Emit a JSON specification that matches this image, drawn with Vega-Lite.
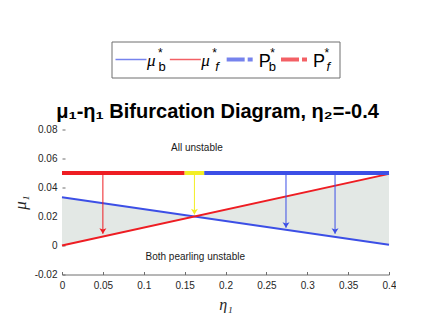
{
  "$schema": "https://vega.github.io/schema/vega-lite/v6.json",
  "background": "white",
  "padding": {"left": 11, "top": 40.5, "right": 0, "bottom": 0},
  "spacing": 52,
  "center": true,
  "bounds": "flush",
  "resolve": {"scale": {"color": "independent"}},
  "config": {"font": "Liberation Sans", "view": {"stroke": null}},
  "vconcat": [
    {
      "width": 228,
      "height": 36,
      "view": {"stroke": "#6e6e6e", "strokeWidth": 1},
      "data": {"values": [
        {"item": "mb", "main": "μ", "sub": "b", "kind": "mu"},
        {"item": "mf", "main": "μ", "sub": "f", "kind": "mu"},
        {"item": "pb", "main": "P", "sub": "b", "kind": "P"},
        {"item": "pf", "main": "P", "sub": "f", "kind": "P"}
      ]},
      "encoding": {
        "x": {"field": "item", "type": "nominal", "scale": {"type": "point", "domain": ["mb", "mf", "pb", "pf"], "range": [19.5, 182.5], "padding": 0}, "axis": null},
        "color": {"field": "item", "type": "nominal", "scale": {"domain": ["mb", "mf", "pb", "pf"], "range": ["#3c4fe6", "#ee1d23", "#3c4fe6", "#ee1d23"]}, "legend": null}
      },
      "layer": [
        {"transform": [{"filter": "datum.kind == 'mu'"}], "mark": {"type": "tick", "orient": "horizontal", "thickness": 1.5, "size": 31}},
        {"transform": [{"filter": "datum.kind == 'P'"}], "mark": {"type": "tick", "orient": "horizontal", "thickness": 4, "size": 18, "xOffset": -4}},
        {"transform": [{"filter": "datum.kind == 'P'"}], "mark": {"type": "tick", "orient": "horizontal", "thickness": 4, "size": 5, "xOffset": 10.5}},
        {"transform": [{"filter": "datum.kind == 'mu'"}], "mark": {"type": "text", "font": "Liberation Serif", "fontStyle": "italic", "fontSize": 17, "align": "left", "baseline": "alphabetic", "dx": 16, "dy": 6}, "encoding": {"text": {"field": "main"}, "color": {"value": "#000000"}}},
        {"transform": [{"filter": "datum.kind == 'P'"}], "mark": {"type": "text", "fontSize": 18, "align": "left", "baseline": "alphabetic", "dx": 19, "dy": 7}, "encoding": {"text": {"field": "main"}, "color": {"value": "#000000"}}},
        {"transform": [{"filter": "datum.kind == 'mu'"}], "mark": {"type": "text", "fontSize": 12, "align": "left", "baseline": "alphabetic", "dx": 27, "dy": -3}, "encoding": {"text": {"value": "*"}, "color": {"value": "#000000"}}},
        {"transform": [{"filter": "datum.kind == 'P'"}], "mark": {"type": "text", "fontSize": 12, "align": "left", "baseline": "alphabetic", "dx": 30.5, "dy": -3}, "encoding": {"text": {"value": "*"}, "color": {"value": "#000000"}}},
        {"transform": [{"filter": "datum.item == 'mb'"}], "mark": {"type": "text", "fontSize": 13, "align": "left", "baseline": "alphabetic", "dx": 27.5, "dy": 11}, "encoding": {"text": {"field": "sub"}, "color": {"value": "#000000"}}},
        {"transform": [{"filter": "datum.item == 'mf'"}], "mark": {"type": "text", "fontSize": 13, "fontStyle": "italic", "align": "left", "baseline": "alphabetic", "dx": 30, "dy": 11}, "encoding": {"text": {"field": "sub"}, "color": {"value": "#000000"}}},
        {"transform": [{"filter": "datum.item == 'pb'"}], "mark": {"type": "text", "fontSize": 13, "align": "left", "baseline": "alphabetic", "dx": 29, "dy": 11}, "encoding": {"text": {"field": "sub"}, "color": {"value": "#000000"}}},
        {"transform": [{"filter": "datum.item == 'pf'"}], "mark": {"type": "text", "fontSize": 13, "fontStyle": "italic", "align": "left", "baseline": "alphabetic", "dx": 32.5, "dy": 11}, "encoding": {"text": {"field": "sub"}, "color": {"value": "#000000"}}}
      ]
    },
    {
      "width": 327,
      "height": 145,
      "title": {"text": "μ₁-η₁ Bifurcation Diagram, η₂=-0.4", "font": "Liberation Sans", "fontSize": 20, "fontWeight": "bold", "color": "#000000", "offset": 13, "dy": 26, "baseline": "alphabetic", "anchor": "middle", "frame": "group", "dx": -8},
      "encoding": {
        "x": {"field": "eta", "type": "quantitative", "scale": {"domain": [0, 0.4], "nice": false, "zero": false},
          "axis": {"title": "η₁", "values": [0, 0.05, 0.1, 0.15, 0.2, 0.25, 0.3, 0.35, 0.4], "labelExpr": "toString(datum.value)", "grid": false, "domain": true, "domainColor": "#6e6e6e", "tickColor": "#6e6e6e", "tickSize": -3, "labelPadding": 8.5, "labelFont": "Liberation Sans", "labelFontSize": 10, "labelColor": "#262626", "labelFlush": false, "titleFont": "Liberation Serif", "titleFontStyle": "italic", "titleFontWeight": "normal", "titleFontSize": 16, "titleColor": "#262626", "titlePadding": 6}},
        "y": {"field": "mu", "type": "quantitative", "scale": {"domain": [-0.02, 0.08], "nice": false, "zero": false},
          "axis": {"title": "μ₁", "values": [-0.02, 0, 0.02, 0.04, 0.06, 0.08], "labelExpr": "toString(datum.value)", "grid": false, "domain": false, "tickColor": "#6e6e6e", "tickSize": -3, "labelPadding": 8, "labelFont": "Liberation Sans", "labelFontSize": 10, "labelColor": "#262626", "labelFlush": false, "titleFont": "Liberation Serif", "titleFontStyle": "italic", "titleFontWeight": "normal", "titleFontSize": 17, "titleColor": "#262626", "titlePadding": 5}},
        "color": {"field": "s", "type": "nominal", "scale": {"domain": ["b", "f", "both"], "range": ["#3c4fe6", "#ee1d23", "#f2ee25"]}, "legend": null}
      },
      "layer": [
        {
          "data": {"values": [
            {"eta": 0, "lo": 0, "hi": 0.0333},
            {"eta": 0.4, "lo": 0.0494, "hi": 0.0005}
          ]},
          "mark": {"type": "area", "color": "#e3e8e5"},
          "encoding": {"y": {"field": "lo", "type": "quantitative"}, "y2": {"field": "hi"}, "color": {"value": "#e3e8e5"}}
        },
        {
          "data": {"values": [
            {"eta": 0, "mu": 0.0333, "s": "b"},
            {"eta": 0.4, "mu": 0.0005, "s": "b"},
            {"eta": 0, "mu": 0, "s": "f"},
            {"eta": 0.4, "mu": 0.0494, "s": "f"}
          ]},
          "mark": {"type": "line", "strokeWidth": 2}
        },
        {
          "data": {"values": [
            {"eta": 0, "eta2": 0.15, "mu": 0.05, "s": "f"},
            {"eta": 0.15, "eta2": 0.174, "mu": 0.05, "s": "both"},
            {"eta": 0.174, "eta2": 0.4, "mu": 0.05, "s": "b"}
          ]},
          "mark": {"type": "rule", "strokeWidth": 4, "strokeCap": "butt"},
          "encoding": {"x2": {"field": "eta2"}}
        },
        {
          "data": {"name": "arrows", "values": [
            {"eta": 0.05, "mu": 0.05, "mu2": 0.0081, "s": "f"},
            {"eta": 0.162, "mu": 0.05, "mu2": 0.0214, "s": "both"},
            {"eta": 0.274, "mu": 0.05, "mu2": 0.0122, "s": "b"},
            {"eta": 0.334, "mu": 0.05, "mu2": 0.0081, "s": "b"}
          ]},
          "layer": [
            {"mark": {"type": "rule", "strokeWidth": 1}, "encoding": {"y2": {"field": "mu2"}}},
            {"mark": {"type": "point", "filled": true, "opacity": 1, "shape": "M0,1L-1,-0.6L0,-0.2L1,-0.6Z", "size": 49, "yOffset": -3.5}, "encoding": {"y": {"field": "mu2", "type": "quantitative"}}}
          ]
        },
        {
          "data": {"values": [
            {"eta": 0.165, "mu": 0.0672, "label": "All unstable"},
            {"eta": 0.163, "mu": -0.0076, "label": "Both pearling unstable"}
          ]},
          "mark": {"type": "text", "fontSize": 10, "font": "Liberation Sans", "align": "center", "baseline": "middle"},
          "encoding": {"text": {"field": "label"}, "color": {"value": "#1a1a1a"}}
        }
      ]
    }
  ]
}
